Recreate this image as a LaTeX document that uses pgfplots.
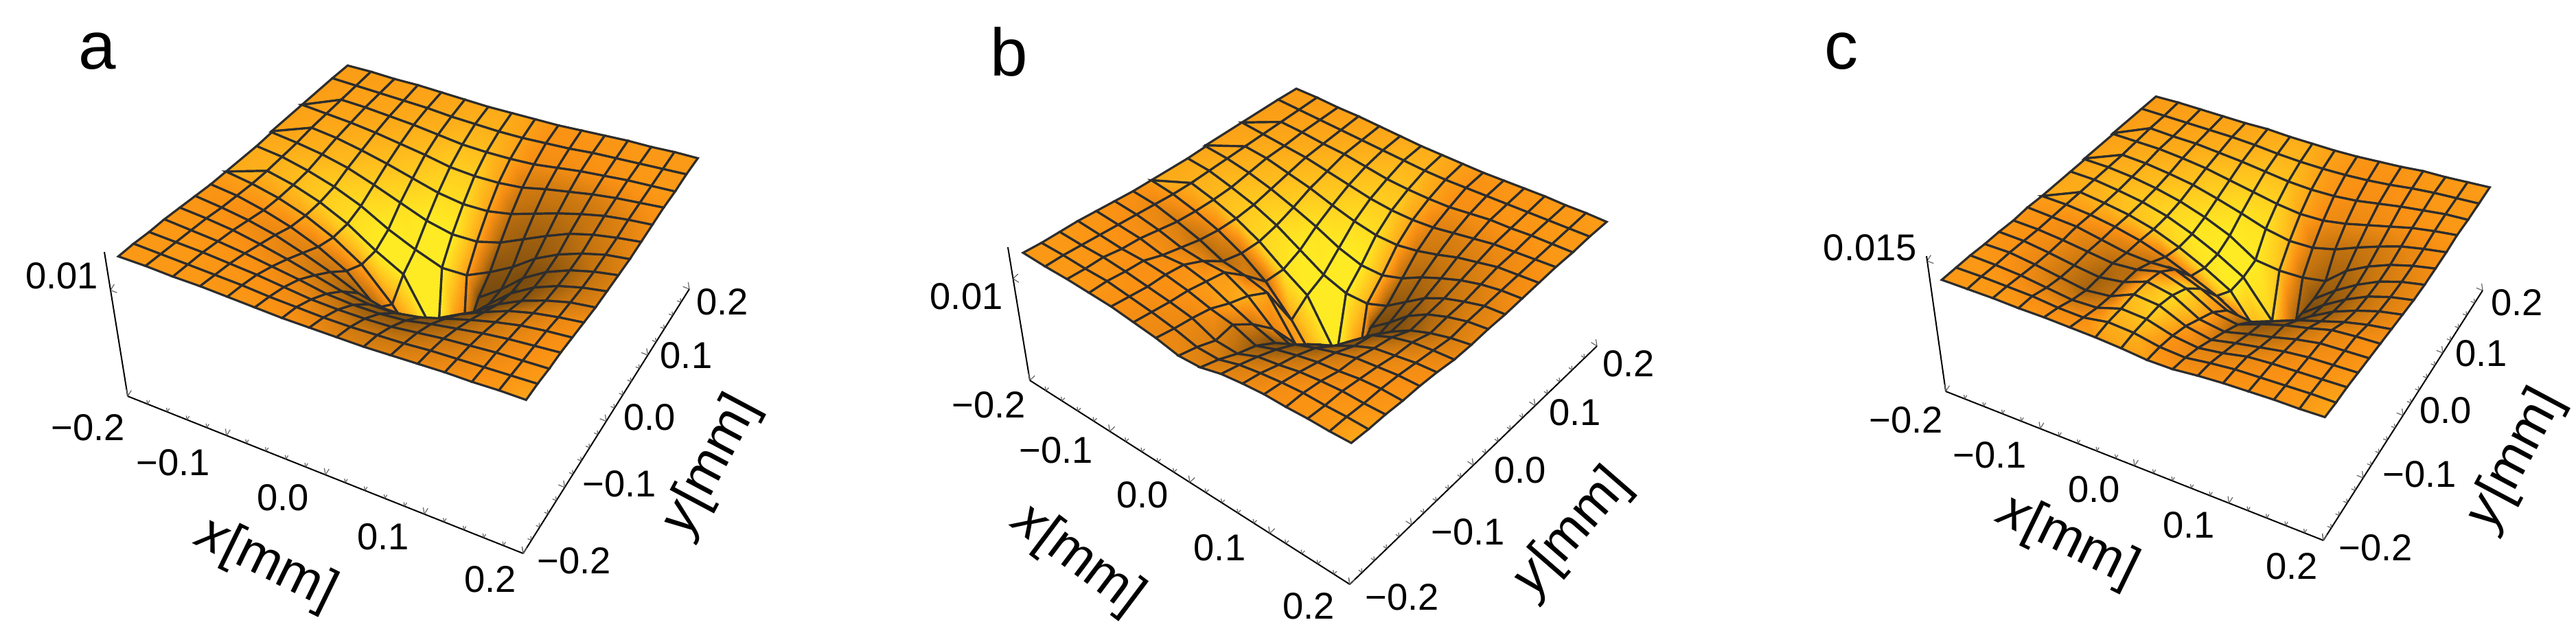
\documentclass[border=0pt]{standalone}
\usepackage{fontspec}
\setmainfont{Liberation Sans}
\usepackage{pgfplots}
\usepackage{pgfplotstable}
\pgfplotsset{compat=1.18}

% 1 reference pixel = 0.25pt
\newdimen\pxu \pxu=0.25pt
% tick label: centre offset from its tick, in reference pixels (right, down)
\newcommand{\tl}[3]{\hbox to 0pt{\kern#1\pxu\raise\dimexpr-#2\pxu-5pt\relax\hbox to 0pt{\hss#3\hss}\hss}}
% grid position of a row of the tables: 16 x 16 nodes, x fastest
\newcommand{\U}{(mod(\coordindex,16)/15)}
\newcommand{\V}{(floor(\coordindex/16)/15)}
% keystone of the original's perspective camera, from the four corners
\newcommand{\Warp}[4]{(-0.2+0.4*((#1)*(1-\U)*(1-\V)+(#2)*\U*(1-\V)+(#3)*\U*\V+(#4)*(1-\U)*\V))}

\pgfplotsset{
  /pgfplots/colormap={sheetmap}{rgb255=(120,75,15) rgb255=(195,115,15) rgb255=(250,145,20) rgb255=(255,195,30) rgb255=(255,235,35)},
  panel/.style={
    anchor=origin, clip=false, enlargelimits=false,
    xmin=-0.2, xmax=0.2, ymin=-0.2, ymax=0.2, zmin=0,
    axis lines*=left,
    xtick={-0.2,-0.1,0,0.1,0.2}, ytick={-0.2,-0.1,0,0.1,0.2},
    minor x tick num=4, minor y tick num=4,
    tick align=inside, tickwidth=2.5pt, subtickwidth=1.5pt,
    tick style={line width=0.3pt, color=black!60},
    axis line style={line width=0.5pt, -},
    tick label style={font=\fontsize{13.6}{14}\selectfont, inner sep=0pt, anchor=base},
    label style={font=\fontsize{19.6}{20}\selectfont, inner sep=0pt, anchor=center},
    xlabel={\textit{x}[mm]}, ylabel={\textit{y}[mm]},
    colormap name=sheetmap,
    point meta min=0, point meta max=100,
  },
  sheet/.style={surf, shader=faceted interp, z buffer=sort, faceted color={rgb,255:red,45;green,45;blue,45},
    line width=0.8pt, mesh/rows=16, mesh/cols=16, point meta=explicit},
}

% z in units of 1e-4, m = surface brightness
\pgfplotstableread[row sep=crcr]{
z m\\
129 54\\129 54\\128 54\\128 54\\127 53\\126 52\\125 50\\125 46\\125 38\\125 36\\126 38\\127 42\\128 46\\128 50\\129 54\\129 60\\
129 54\\128 54\\127 54\\126 52\\125 52\\123 50\\122 46\\121 38\\121 30\\122 28\\123 30\\125 36\\126 42\\127 48\\128 52\\129 56\\
128 54\\127 54\\126 53\\124 52\\122 50\\119 46\\116 40\\115 28\\115 18\\116 16\\119 20\\122 28\\124 36\\126 44\\127 50\\128 54\\
128 53\\126 53\\124 52\\121 50\\117 46\\113 40\\108 30\\106 16\\106 10\\108 8\\113 12\\117 22\\121 32\\124 42\\126 48\\128 52\\
127 53\\125 52\\122 50\\117 46\\111 40\\104 32\\97 20\\93 8\\93 0\\97 0\\104 4\\111 16\\117 28\\122 38\\125 46\\127 50\\
126 52\\123 50\\119 46\\113 42\\104 36\\94 26\\82 14\\75 0\\75 0\\82 0\\94 0\\104 6\\113 20\\119 32\\123 42\\126 48\\
125 52\\122 52\\116 50\\108 46\\97 40\\82 32\\55 20\\45 20\\45 0\\55 0\\82 0\\97 0\\108 6\\116 20\\122 30\\125 38\\
125 56\\121 58\\115 60\\106 62\\93 62\\75 60\\45 55\\5 50\\5 5\\45 0\\75 0\\93 0\\106 4\\115 14\\121 26\\125 36\\
125 63\\121 66\\115 72\\106 81\\93 91\\75 100\\60 100\\5 100\\5 30\\60 0\\75 0\\93 0\\106 5\\115 14\\121 26\\125 36\\
125 63\\122 66\\116 72\\108 81\\97 91\\82 100\\70 100\\60 100\\60 55\\70 5\\82 6\\97 8\\108 14\\116 22\\122 30\\125 40\\
126 61\\123 63\\119 67\\113 73\\104 81\\94 92\\84 100\\78 100\\78 60\\84 15\\94 12\\104 14\\113 20\\119 28\\123 36\\126 44\\
127 59\\125 61\\122 64\\117 68\\111 73\\104 81\\97 91\\93 91\\93 60\\97 22\\104 20\\111 22\\117 26\\122 32\\125 40\\127 48\\
128 58\\126 59\\124 61\\121 64\\117 68\\113 73\\108 81\\106 81\\106 60\\108 32\\113 30\\117 32\\121 36\\124 42\\126 48\\128 52\\
128 57\\127 58\\126 59\\124 61\\122 64\\119 67\\116 72\\115 72\\115 60\\116 46\\119 46\\122 48\\124 50\\126 52\\127 54\\128 54\\
129 56\\128 57\\127 58\\126 59\\125 61\\123 63\\122 66\\121 66\\121 58\\122 50\\123 50\\125 51\\126 52\\127 54\\128 54\\129 54\\
129 56\\129 56\\128 57\\128 58\\127 59\\126 61\\125 63\\125 63\\125 57\\125 51\\126 52\\127 53\\128 53\\128 54\\129 55\\129 55\\
}\tabA

\pgfplotstableread[row sep=crcr]{
z m\\
125 54\\124 54\\124 54\\123 53\\122 50\\119 46\\116 44\\111 42\\112 38\\118 40\\121 44\\123 48\\123 50\\124 52\\124 54\\125 62\\
124 54\\124 54\\123 53\\123 52\\120 50\\117 46\\113 43\\107 38\\107 32\\114 34\\118 40\\121 46\\123 50\\123 52\\124 54\\124 58\\
124 54\\123 53\\123 52\\121 50\\118 50\\115 48\\111 44\\101 36\\100 20\\109 22\\113 32\\118 40\\121 46\\123 50\\123 52\\124 54\\
124 53\\122 52\\120 50\\120 50\\118 50\\114 52\\108 50\\104 32\\95 10\\103 10\\109 22\\114 34\\117 42\\121 47\\123 50\\123 52\\
123 52\\121 50\\119 48\\114 48\\116 50\\111 56\\101 60\\92 30\\85 2\\95 2\\103 10\\110 26\\116 36\\119 44\\122 48\\123 50\\
122 50\\120 47\\116 44\\110 40\\108 42\\108 55\\96 66\\75 40\\65 0\\82 0\\92 2\\103 14\\112 30\\116 40\\120 46\\122 48\\
121 50\\119 42\\113 34\\106 24\\96 20\\93 34\\87 60\\48 50\\42 0\\62 0\\84 0\\100 4\\109 16\\115 28\\118 38\\120 44\\
121 56\\118 54\\112 50\\104 42\\92 30\\75 26\\48 60\\11 60\\6 5\\42 0\\70 0\\90 2\\102 10\\110 22\\116 34\\120 42\\
121 62\\118 66\\112 70\\104 78\\92 86\\75 95\\60 100\\11 100\\11 40\\60 0\\75 0\\92 6\\104 16\\112 26\\118 36\\121 42\\
121 62\\119 66\\113 72\\106 80\\96 90\\82 100\\68 100\\60 100\\60 65\\68 8\\82 10\\96 16\\106 24\\113 32\\119 38\\121 44\\
122 60\\120 64\\116 68\\110 74\\102 84\\93 95\\82 100\\75 100\\75 65\\82 20\\93 18\\102 24\\110 30\\116 36\\120 44\\122 48\\
123 59\\121 62\\119 66\\114 70\\109 76\\102 84\\96 92\\92 92\\92 62\\96 30\\102 28\\109 32\\114 36\\119 42\\121 46\\123 50\\
124 58\\122 60\\120 62\\118 66\\114 70\\110 76\\106 82\\104 82\\104 60\\106 38\\110 36\\114 40\\118 44\\120 46\\122 50\\124 54\\
124 57\\123 58\\122 60\\120 62\\119 66\\116 70\\113 74\\112 74\\112 60\\113 48\\116 48\\119 50\\120 52\\122 52\\123 54\\124 54\\
125 56\\124 57\\123 58\\122 60\\121 62\\120 64\\119 68\\118 68\\118 58\\119 50\\120 50\\121 52\\122 52\\123 54\\124 54\\125 54\\
125 56\\125 56\\124 57\\124 58\\123 60\\122 62\\121 64\\121 64\\121 58\\121 52\\122 52\\123 52\\124 53\\124 54\\125 55\\125 56\\
}\tabB

\pgfplotstableread[row sep=crcr]{
z m\\
131 54\\131 54\\131 54\\130 53\\130 52\\129 52\\128 56\\126 60\\123 56\\123 50\\126 48\\128 50\\129 52\\130 52\\130 54\\131 60\\
131 54\\131 54\\130 52\\129 48\\126 46\\125 48\\130 64\\128 66\\122 50\\120 44\\124 44\\127 48\\128 50\\129 52\\130 54\\130 60\\
131 54\\130 52\\128 46\\124 38\\120 30\\121 38\\130 70\\128 76\\119 52\\115 40\\119 38\\125 42\\127 48\\128 50\\129 52\\130 56\\
130 53\\130 50\\126 42\\121 28\\116 15\\119 25\\131 72\\128 84\\114 55\\108 32\\114 28\\119 34\\124 42\\127 48\\128 50\\129 54\\
130 52\\129 50\\125 42\\120 28\\116 15\\120 22\\130 65\\124 90\\106 60\\101 25\\108 16\\114 22\\121 34\\126 44\\127 48\\128 52\\
129 52\\128 50\\125 44\\121 32\\117 20\\119 22\\126 45\\116 88\\98 55\\93 14\\103 8\\111 14\\117 28\\124 40\\126 46\\127 50\\
130 52\\128 50\\126 46\\120 38\\114 30\\112 25\\113 35\\100 70\\84 45\\80 5\\90 4\\100 6\\108 18\\116 30\\122 40\\126 46\\
129 56\\128 56\\125 56\\120 54\\113 48\\103 40\\90 45\\76 62\\57 30\\57 0\\66 2\\88 4\\102 14\\112 26\\120 36\\125 44\\
129 62\\128 64\\124 68\\119 74\\111 80\\99 88\\84 95\\66 100\\22 60\\22 5\\66 0\\84 6\\99 14\\111 26\\119 36\\124 44\\
129 62\\128 66\\124 72\\119 78\\111 88\\99 98\\84 100\\66 100\\24 85\\26 12\\66 6\\84 12\\99 20\\111 30\\119 38\\124 44\\
129 60\\128 64\\125 68\\120 74\\113 84\\103 94\\90 100\\70 100\\66 75\\66 25\\70 14\\90 18\\103 26\\113 34\\120 42\\125 48\\
130 59\\128 62\\126 66\\122 70\\117 76\\109 86\\100 94\\90 94\\84 68\\84 32\\90 24\\100 26\\109 32\\117 40\\122 46\\126 50\\
130 58\\129 60\\128 62\\125 66\\121 72\\115 78\\109 84\\103 84\\99 62\\99 46\\103 42\\109 44\\115 46\\121 50\\125 52\\128 54\\
131 57\\130 58\\128 60\\127 62\\124 66\\121 70\\117 74\\113 74\\111 60\\111 50\\113 48\\117 48\\121 50\\124 52\\127 54\\128 54\\
131 56\\130 57\\129 58\\128 60\\127 62\\125 64\\122 68\\120 68\\119 58\\119 52\\120 50\\122 50\\125 52\\127 54\\128 54\\129 54\\
131 55\\131 56\\130 57\\129 58\\128 60\\128 62\\126 64\\125 64\\124 58\\124 52\\125 52\\126 52\\128 53\\128 54\\129 55\\130 56\\
}\tabC

\begin{document}
\begin{tikzpicture}
\path[use as bounding box] (0,0) rectangle (938pt,233.5pt);
\node[font=\fontsize{24.5}{25}\selectfont] at (35.5pt,214.75pt) {a};
\node[font=\fontsize{24.5}{25}\selectfont] at (367.5pt,214.75pt) {b};
\node[font=\fontsize{24.5}{25}\selectfont] at (670.6pt,214.75pt) {c};

% panel a: y axis first, on the x=0.2 side, so its frame has x mirrored
\begin{axis}[panel, at={(148.75pt,108.75pt)}, hide x axis, hide z axis,
    x={(-360pt,143.125pt)}, y={(151.25pt,240.625pt)}, z={(-0.0625pt,0.386pt)},
    zmax=136,
    yticklabels={\tl{74}{9}{−0.2},\tl{80}{-6}{−0.1},\tl{63}{-7}{0.0},\tl{56}{-1}{0.1},\tl{48}{18}{0.2}},
    ylabel style={at={(axis cs:-0.2,0,0)}, xshift=38.25pt, yshift=-16.1pt, rotate=62},
]
\addplot3[draw=none] coordinates {(0,0,0)};
\end{axis}
% panel a: surface, x and z axes
\begin{axis}[panel, at={(148.75pt,108.75pt)}, hide y axis,
    x={(360pt,-143.125pt)}, y={(151.25pt,240.625pt)}, z={(-0.0625pt,0.386pt)},
    zmax=136, ztick={100}, zticklabels={\tl{-71}{-22}{0.01}},
    xticklabels={\tl{-58}{44}{−0.2},\tl{-78}{38}{−0.1},\tl{-62}{32}{0.0},\tl{-60}{32}{0.1},\tl{-48}{36}{0.2}},
    xlabel style={at={(axis cs:0,-0.2,0)}, xshift=-21.5pt, yshift=-32.4pt, rotate=-26},
]
\addplot3[sheet] table[
    x expr={\Warp{0.0220}{1.0295}{1.0695}{0.2432}},
    y expr={\Warp{0.0245}{0.0809}{1.0190}{0.8782}},
    z=z, meta=m] {\tabA};
\end{axis}

% panel b
\begin{axis}[panel, at={(478.25pt,101.25pt)}, hide x axis, hide z axis,
    x={(-291.25pt,185.625pt)}, y={(225pt,216.875pt)}, z={(-0.0611pt,0.3702pt)},
    zmax=131,
    yticklabels={\tl{76}{18}{−0.2},\tl{82}{9}{−0.1},\tl{68}{6.5}{0.0},\tl{58}{9}{0.1},\tl{46}{24}{0.2}},
    ylabel style={at={(axis cs:-0.2,0,0)}, xshift=36pt, yshift=-24.6pt, rotate=49},
]
\addplot3[draw=none] coordinates {(0,0,0)};
\end{axis}
\begin{axis}[panel, at={(478.25pt,101.25pt)}, hide y axis,
    x={(291.25pt,-185.625pt)}, y={(225pt,216.875pt)}, z={(-0.0611pt,0.3702pt)},
    zmax=131, ztick={100}, zticklabels={\tl{-68}{25}{0.01}},
    xticklabels={\tl{-60}{34}{−0.2},\tl{-78}{26}{−0.1},\tl{-69}{17}{0.0},\tl{-73}{20}{0.1},\tl{-60}{30}{0.2}},
    xlabel style={at={(axis cs:0,-0.2,0)}, xshift=-40.75pt, yshift=-28.1pt, rotate=-37},
]
\addplot3[sheet] table[
    x expr={\Warp{0.0257}{1.0144}{1.0634}{0.2195}},
    y expr={\Warp{0.0243}{0.0722}{1.0421}{0.8789}},
    z=z, meta=m] {\tabB};
\end{axis}

% panel c
\begin{axis}[panel, at={(806.25pt,109.375pt)}, hide x axis, hide z axis,
    x={(-343.75pt,135.625pt)}, y={(145pt,227.5pt)}, z={(-0.045pt,0.3167pt)},
    zmax=155.5,
    yticklabels={\tl{76}{10}{−0.2},\tl{82}{-6}{−0.1},\tl{62}{-8}{0.0},\tl{56}{-1}{0.1},\tl{50}{16}{0.2}},
    ylabel style={at={(axis cs:-0.2,0,0)}, xshift=41pt, yshift=-16pt, rotate=62},
]
\addplot3[draw=none] coordinates {(0,0,0)};
\end{axis}
\begin{axis}[panel, at={(806.25pt,109.375pt)}, hide y axis,
    x={(343.75pt,-135.625pt)}, y={(145pt,227.5pt)}, z={(-0.045pt,0.3167pt)},
    zmax=155.5, ztick={150}, zticklabels={\tl{-83}{-20}{0.015}},
    xticklabels={\tl{-58}{40}{−0.2},\tl{-73.5}{37}{−0.1},\tl{-59}{33.5}{0.0},\tl{-58.5}{31}{0.1},\tl{-46}{37}{0.2}},
    xlabel style={at={(axis cs:0,-0.2,0)}, xshift=-24.25pt, yshift=-27.4pt, rotate=-26},
]
\addplot3[sheet] table[
    x expr={\Warp{0.0291}{1.0250}{1.0625}{0.2351}},
    y expr={\Warp{0.0077}{0.0520}{0.9974}{0.8641}},
    z=z, meta=m] {\tabC};
\end{axis}
\end{tikzpicture}
\end{document}
